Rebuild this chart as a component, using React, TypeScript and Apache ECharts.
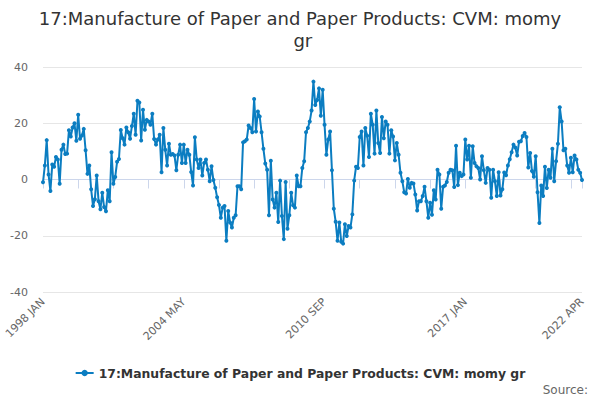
import React, { useEffect, useRef } from "react";
import * as echarts from "echarts";

const TITLE = "17:Manufacture of Paper and Paper Products: CVM: momy gr";
const SERIES_NAME = "17:Manufacture of Paper and Paper Products: CVM: momy gr";
const SOURCE = "Source:";

const MONTHS = ["JAN", "FEB", "MAR", "APR", "MAY", "JUN", "JUL", "AUG", "SEP", "OCT", "NOV", "DEC"];
const START_YEAR = 1998;

const values1998: number[] = [
  -1, 5, 14, 1.8, -4.1, 5.3, 4.5, 8, 7.1, -1.5,
  10.6, 12.4, 9.1, 9.2, 17.5, 15.3, 18.5, 20, 13.8, 23,
  14.5, 15.6, 18, 10.4, 2, 5, -3.5, -9.4, -7, 1.4,
  -7.7, -10.6, -4.7, -9.8, -11.3, -3.8, -7.7, 9.7, -1.5, 0.9,
  6.3, 7.3, 17.6, 14.7, 12.4, 18.5, 16.8, 14.5, 19, 23.4,
  15.9, 28,
];
const values2002: number[] = [
  27.4, 13.9, 24.8, 17.7, 21.2, 20.6, 19.5, 23.4, 14.4, 12.4,
  14.2, 15.9, 2.6, 18.3, 10.6, 5, 12.7, 8.8, 9.1, 8.5,
  3.3, 8.8, 12.4, 5.9, 12.4, 5.9, 10.6, 8.8, 2.7, -2.1,
  15, 7.1, 4.1, 7.1, 1.4, 5.9, 7.1, 3.5, -0.6, 4.7,
  -0.2, -2.9, -6.3, -9.1, -13.6, -10, -9.4, -21.8, -11.2, -15.3,
  -17.1, -13.6, -12.7, -2.4,
];
const values2006: number[] = [
  -2.4, -3.5, 13.2, 13.6, 14.2, 19.2, 18.3, 16.8, 28.6, 17.1,
  24.2, 22.4, 16.8, 10.9, 5.7, 3.5,
  -12.7, 6.7, -7.1, -10, -4.7, -15.1, -0.4, -13, -21.2, -0.9,
  -17.5, -12.7, -4.7, -9.2, -10, 1.4, -2.4, -2.4, 4.1, 6.5,
  16.8, 18.3, 20.6, 24.5, 34.8,
  26.5, 28.3, 32.4, 22.7, 31.9, 19.5, 8.8, 14.2,
];
const values2010: number[] = [
  17.1, 3.3, -10.4, -15, -21.8, -15.3, -22.1, -22.8, -15.9, -20.1,
  -16.5, -17.1, -12.4, -0.4,
  4.5, 4.1, 15.1, 17.1, 5, 18.3, 15.6, 8, 23.4, 19.5,
  9.2, 24.5, 13, 9.4, 22.2, 14.7, 20.6, 19.5, 9.2, 17.5,
  15.3, 6.8, 13,
];
const values2014: number[] = [
  8.8, 2.4, -0.6, -4.5, -5, 0.2, -2.9, -1.2, -1.4, -5.3,
  -11, -7.7, -7.7, -5.9, -2.6, -7.7, -13.6, -8.3, -12.5, -3.8,
  -7.1, 3.5,
  1.8, -10.4, -2.6, -2.1, -0.9, 2.4, 3.5, 3.3, -2.7, 12,
  -2, 2.4, 1.2, 1.8, 14.2, 7.1, 12, 0.6, 11.8, 5.9,
  4.7, 4.1, 0, 8.3, 3.3, -1.2, 4.1, 3.5, -6.5, 3.5,
  -0.6, -5.9, 2.6,
];
const values2018: number[] = [
  -5.7, -3.5, 2.5, 1.5, 5, 7.2, 9.7, 12.4,
  11.4, 8.5, 13.4, 13.6, 15.5, 16.5, 15.1, 4.3, 9.4, 3,
  1, 8.3, -4.5, -15.5,
  -2.1, -5.9, 4.5, -3, 3.5, 0.6, 10.9, -0.6, 6.5, 12.7,
  25.7, 20.6, 10.4, 10.9, 5, 2.4, 7.7, 2.6, 8.5, 7.1,
  3.5, 2.4, -0.2,
];

const seriesValues = [
  ...values1998,
  ...values2002,
  ...values2006,
  ...values2010,
  ...values2014,
  ...values2018,
];

const categories: string[] = seriesValues.map(
  (_, i) => `${START_YEAR + Math.floor(i / 12)} ${MONTHS[i % 12]}`
);

const Y_TICKS = { min: -40, max: 40, interval: 20 };
const LABEL_EVERY = 76;
const TICK_EVERY = 19;

const FONT = "DejaVu Sans";
const BLUE = "#0b7dc1";

export default function App() {
  const ref = useRef<HTMLDivElement>(null);
  useEffect(() => {
    document.body.style.margin = "0";
    if (!ref.current) return;
    const chart = echarts.init(ref.current, undefined, { renderer: "svg" });
    const last = categories.length - 1;
    chart.setOption({
      animation: false,
      backgroundColor: "#ffffff",
      textStyle: { fontFamily: FONT },
      title: {
        text: TITLE,
        left: "center",
        top: 2,
        textStyle: {
          fontFamily: FONT,
          fontSize: 18,
          fontWeight: "normal",
          color: "#333333",
          width: 530,
          overflow: "break",
          lineHeight: 22,
          align: "center",
        },
      },
      legend: {
        bottom: 16,
        left: "center",
        itemWidth: 18,
        itemHeight: 8,
        itemGap: 10,
        textStyle: { fontFamily: FONT, fontSize: 12.4, fontWeight: "bold", color: "#333333" },
        data: [SERIES_NAME],
      },
      graphic: [
        {
          type: "text",
          right: 12,
          top: 384,
          style: { text: SOURCE, fontFamily: FONT, fontSize: 12, fill: "#666666" },
        },
      ],
      grid: { left: 43, right: 18, top: 67, bottom: 108, containLabel: false },
      xAxis: {
        type: "category",
        data: categories,
        boundaryGap: false,
        axisLine: { lineStyle: { color: "#ccd6eb" } },
        axisTick: {
          show: true,
          length: 9,
          interval: (i: number) => i % TICK_EVERY === 0 || i === last,
          lineStyle: { color: "#ccd6eb" },
        },
        axisLabel: {
          interval: (i: number) => i % LABEL_EVERY === 0 || i === last,
          rotate: 45,
          fontFamily: FONT,
          fontSize: 11,
          color: "#666666",
          margin: 8,
        },
        splitLine: { show: false },
      },
      yAxis: {
        type: "value",
        min: Y_TICKS.min,
        max: Y_TICKS.max,
        interval: Y_TICKS.interval,
        axisLine: { show: false },
        axisTick: { show: false },
        axisLabel: { fontFamily: FONT, fontSize: 11, color: "#666666", margin: 15 },
        splitLine: { lineStyle: { color: "#e6e6e6" } },
      },
      series: [
        {
          name: SERIES_NAME,
          type: "line",
          data: seriesValues,
          color: BLUE,
          lineStyle: { width: 2, color: BLUE },
          itemStyle: { color: BLUE },
          symbol: "circle",
          symbolSize: 4,
          showAllSymbol: true,
        },
      ],
    });
    return () => chart.dispose();
  }, []);
  return <div ref={ref} style={{ width: 600, height: 400 }} />;
}
